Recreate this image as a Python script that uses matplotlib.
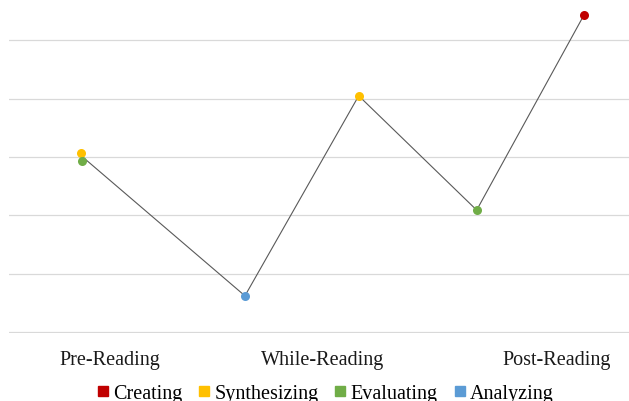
import matplotlib
matplotlib.use('Agg')
import matplotlib.pyplot as plt
from matplotlib.lines import Line2D

plt.rcParams['font.family'] = ['Liberation Serif', 'DejaVu Serif']

# category labels on the x axis
phases = ['Pre-Reading', 'While-Reading', 'Post-Reading']
phase_pos = [0.48, 1.49, 2.60]

# the connecting line through the stages
line_x = [0.35, 1.12, 1.66, 2.22, 2.73]
line_y = [3.0, 0.62, 4.05, 2.09, 5.44]

# coloured points per thinking level
levels = ['Creating', 'Synthesizing', 'Evaluating', 'Analyzing']
colors = ['#C00000', '#FFC000', '#70AD47', '#5B9BD5']
pts_x = {'Creating': [2.73], 'Synthesizing': [0.34, 1.66],
         'Evaluating': [0.345, 2.22], 'Analyzing': [1.12]}
pts_y = {'Creating': [5.44], 'Synthesizing': [3.07, 4.05],
         'Evaluating': [2.93, 2.09], 'Analyzing': [0.62]}

fig = plt.figure(figsize=(6.29, 4.02), dpi=100)
ax = fig.add_axes([9 / 629, 68 / 402, 632 / 629, 334 / 402])

ax.plot(line_x, line_y, color='#595959', lw=0.8, zorder=2)
for lev, c in zip(levels, colors):
    ax.plot(pts_x[lev], pts_y[lev], 'o', color=c, ms=6.5, mec='none',
            zorder=3, clip_on=False)

ax.set_xlim(0, 3)
ax.set_ylim(-0.0172, 5.71)
ax.set_yticks(range(0, 6))
ax.set_yticklabels([])
ax.grid(axis='y', color='#d9d9d9', lw=0.9)
ax.set_axisbelow(True)
ax.set_xticks(phase_pos)
ax.set_xticklabels(phases, fontsize=14.5, color='#1a1a1a')
ax.tick_params(length=0, pad=12)
for s in ax.spines.values():
    s.set_visible(False)

handles = [Line2D([], [], marker='s', ls='none', color=c, ms=7) for c in colors]
fig.legend(handles, levels, loc='center', bbox_to_anchor=(325 / 629, 1 - 394 / 402),
           ncol=4, frameon=False, fontsize=14.5, handlelength=0.6,
           handletextpad=0.2, columnspacing=0.8, borderaxespad=0)

fig.savefig('out.png', dpi=100)
